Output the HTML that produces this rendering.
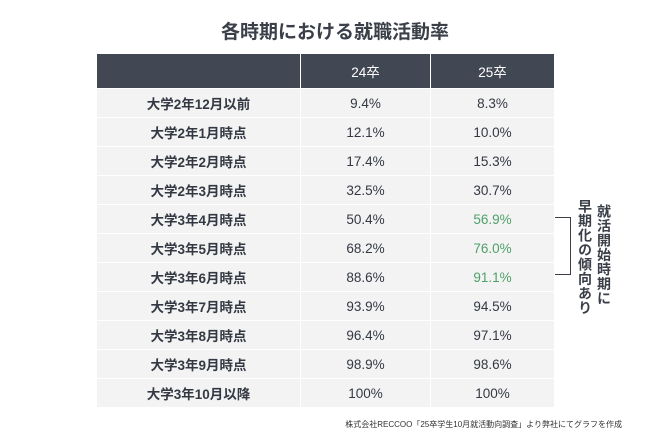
<!DOCTYPE html>
<html><head><meta charset="utf-8"><style>
body{margin:0;width:670px;height:445px;background:#fff;font-family:"Liberation Sans","Noto Sans CJK JP",sans-serif;color:#3a3f48;position:relative;overflow:hidden}
.t{position:absolute;left:0;width:670px;top:17px;text-align:center;font-size:19px;font-weight:bold;color:#3a3f48}
table{position:absolute;left:96px;top:53px;border-collapse:collapse;width:459px}
td,th{border:1.5px solid #fff;text-align:center;font-size:13.5px;padding:0}
th{background:#414753;color:#fff;height:34px;font-weight:normal}
td{background:#f3f3f3;height:28px;color:#333842}
td:first-child{font-weight:bold}
.g{color:#4fa06a !important}
.v{position:absolute;writing-mode:vertical-rl;font-size:14px;font-weight:bold;color:#3a3f48;line-height:16px;letter-spacing:0.5px}
.br{position:absolute;left:555px;top:217px;width:16px;height:58px;border:1.5px solid #3a3f48;border-left:none;box-sizing:border-box}
.s{position:absolute;left:0;width:622px;text-align:right;top:419px;font-size:8px;color:#333}
</style></head><body>
<div class="t">各時期における就職活動率</div>
<table>
<tr><th style="width:203px"></th><th style="width:129px">24卒</th><th>25卒</th></tr>
<tr><td>大学2年12月以前</td><td>9.4%</td><td>8.3%</td></tr>
<tr><td>大学2年1月時点</td><td>12.1%</td><td>10.0%</td></tr>
<tr><td>大学2年2月時点</td><td>17.4%</td><td>15.3%</td></tr>
<tr><td>大学2年3月時点</td><td>32.5%</td><td>30.7%</td></tr>
<tr><td>大学3年4月時点</td><td>50.4%</td><td class="g">56.9%</td></tr>
<tr><td>大学3年5月時点</td><td>68.2%</td><td class="g">76.0%</td></tr>
<tr><td>大学3年6月時点</td><td>88.6%</td><td class="g">91.1%</td></tr>
<tr><td>大学3年7月時点</td><td>93.9%</td><td>94.5%</td></tr>
<tr><td>大学3年8月時点</td><td>96.4%</td><td>97.1%</td></tr>
<tr><td>大学3年9月時点</td><td>98.9%</td><td>98.6%</td></tr>
<tr><td>大学3年10月以降</td><td>100%</td><td>100%</td></tr>
</table>
<div class="br"></div>
<div class="v" style="left:596px;top:204px">就活開始時期に</div>
<div class="v" style="left:577px;top:199px">早期化の傾向あり</div>
<div class="s">株式会社RECCOO「25卒学生10月就活動向調査」より弊社にてグラフを作成</div>
</body></html>
